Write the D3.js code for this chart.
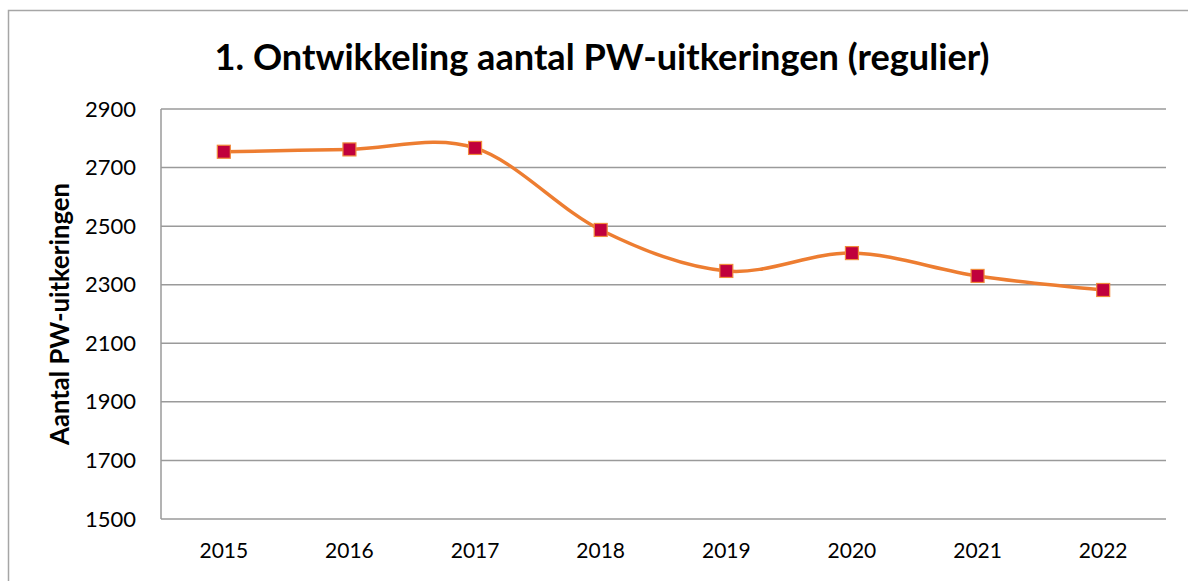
<!DOCTYPE html>
<html>
<head>
<meta charset="utf-8">
<script src="https://cdn.jsdelivr.net/npm/d3@7"></script>
<style>
  html, body { margin: 0; padding: 0; background: #fff; }
  svg { display: block; }
</style>
</head>
<body>
<script>
// ___________ data
var years = ['2015', '2016', '2017', '2018', '2019', '2020', '2021', '2022']
var uitkeringen = [2754, 2762, 2767, 2487, 2347, 2408, 2330, 2282]
var yTicks = [1500, 1700, 1900, 2100, 2300, 2500, 2700, 2900]

var chartTitle = '1. Ontwikkeling aantal PW-uitkeringen (regulier)'
var yTitle = 'Aantal PW-uitkeringen'

// ___________ layout
var width = 1188, height = 581
var plot = { left: 161, right: 1166, top: 109, bottom: 519 }
var font = 'Lato, "Open Sans", sans-serif'

var svg = d3.select('body').append('svg')
  .attr('width', width)
  .attr('height', height)

// outer chart border
svg.append('rect')
  .attr('x', 8.5).attr('y', 10.5)
  .attr('width', width + 20).attr('height', height + 20)
  .style('fill', 'none')
  .style('stroke', '#a6a6a6')
  .style('stroke-width', 1.5)

var x = d3.scaleBand()
  .domain(years)
  .range([plot.left, plot.right])

var y = d3.scaleLinear()
  .domain([1500, 2900])
  .range([plot.bottom, plot.top])

// gridlines
svg.append('g').attr('class', 'grid')
  .selectAll('line')
  .data(yTicks)
  .enter().append('line')
    .attr('x1', plot.left).attr('x2', plot.right)
    .attr('y1', function (d) { return y(d) })
    .attr('y2', function (d) { return y(d) })
    .style('stroke', '#9a9a9a')
    .style('stroke-width', 1.5)

// left axis line
svg.append('line')
  .attr('x1', plot.left).attr('x2', plot.left)
  .attr('y1', plot.top).attr('y2', plot.bottom)
  .style('stroke', '#9a9a9a')
  .style('stroke-width', 1.5)

// y axis labels
var yAxis = svg.append('g')
  .attr('transform', 'translate(' + plot.left + ',0)')
  .call(d3.axisLeft(y).tickValues(yTicks).tickSize(0).tickPadding(25).tickFormat(d3.format('d')))
yAxis.select('.domain').remove()
yAxis.selectAll('text')
  .style('font-family', font)
  .style('font-size', '22px')
  .style('fill', '#000')

// x axis labels
var xAxis = svg.append('g')
  .attr('transform', 'translate(0,' + plot.bottom + ')')
  .call(d3.axisBottom(x).tickSize(0).tickPadding(24))
xAxis.select('.domain').remove()
xAxis.selectAll('text')
  .style('font-family', font)
  .style('font-size', '21px')
  .style('fill', '#000')

// title
var title = svg.append('text')
  .attr('x', 602)
  .attr('y', 70)
  .attr('text-anchor', 'middle')
  .style('font-family', font)
  .style('font-weight', 'bold')
  .style('font-size', '32px')
  .text(chartTitle)
var tw = title.node().getComputedTextLength()
title.style('font-size', (32 * 775 / tw) + 'px')

// y title
var yt = svg.append('text')
  .attr('transform', 'translate(69,314) rotate(-90)')
  .attr('text-anchor', 'middle')
  .style('font-family', font)
  .style('font-weight', 'bold')
  .style('font-size', '20px')
  .text(yTitle)
var ytw = yt.node().getComputedTextLength()
yt.style('font-size', (20 * 262 / ytw) + 'px')

// smoothed line
var line = d3.line()
  .x(function (d, i) { return x(years[i]) + x.bandwidth() / 2 })
  .y(function (d) { return y(d) })
  .curve(d3.curveCardinal.tension(0))

svg.append('path')
  .datum(uitkeringen)
  .attr('d', line)
  .style('fill', 'none')
  .style('stroke', '#ed7d31')
  .style('stroke-width', 3.5)

// markers
var ms = 13
svg.append('g').attr('class', 'markers')
  .selectAll('rect')
  .data(uitkeringen)
  .enter().append('rect')
    .attr('x', function (d, i) { return x(years[i]) + x.bandwidth() / 2 - ms / 2 })
    .attr('y', function (d) { return y(d) - ms / 2 })
    .attr('width', ms)
    .attr('height', ms)
    .style('fill', '#c0003c')
    .style('stroke', '#f08a3c')
    .style('stroke-width', 1.2)
</script>
</body>
</html>
